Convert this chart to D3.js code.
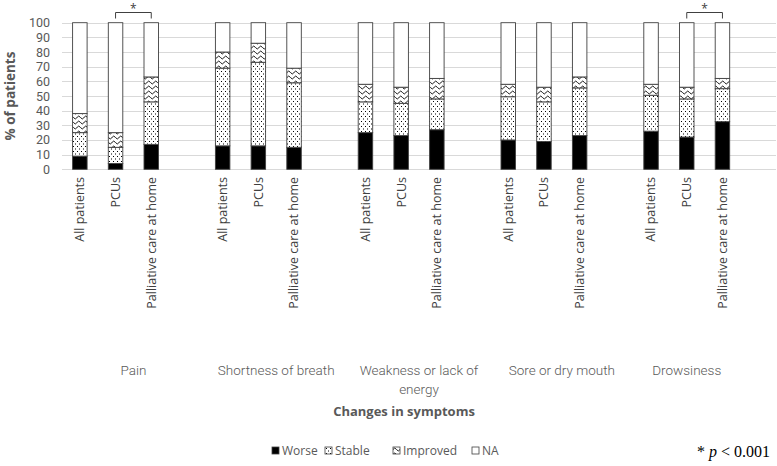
<!DOCTYPE html>
<html>
<head>
<meta charset="utf-8">
<script src="https://cdn.jsdelivr.net/npm/d3@7/dist/d3.min.js"></script>
<style>
  html, body { margin: 0; padding: 0; background: #fff; }
  svg { display: block; }
</style>
</head>
<body>
<svg id="chart" width="777" height="466"></svg>
<script>
// ---------- DATA ----------
const symptoms = ["Pain", "Shortness of breath", "Weakness or lack of energy", "Sore or dry mouth", "Drowsiness"];
const groups = ["All patients", "PCUs", "Palliative care at home"];
const seriesNames = ["Worse", "Stable", "Improved", "NA"];
// values per bar, in order symptom x group
const worse    = [9, 4, 17,   16, 16, 15,   25, 23, 27,   20, 19, 23,   26, 22, 32.5];
const stable   = [16, 11, 29, 53, 57, 44,   21, 22, 21,   29.5, 27, 32.5, 24.5, 26, 22.5];
const improved = [13, 10, 17, 11, 13, 10,   12, 11, 14,   8.5, 10, 7.5,  7.5, 8, 7];
const na       = [62, 75, 37, 20, 14, 31,   42, 44, 38,   42, 44, 37,   42, 44, 38];
const yTicks = [0, 10, 20, 30, 40, 50, 60, 70, 80, 90, 100];
const significant = [["Pain", "PCUs", "Palliative care at home"], ["Drowsiness", "PCUs", "Palliative care at home"]];
const groupLabelLines = [["Pain"], ["Shortness of breath"], ["Weakness or lack of", "energy"], ["Sore or dry mouth"], ["Drowsiness"]];

// ---------- BUILD ----------
const rows = [];
symptoms.forEach((s, si) => groups.forEach((g, gi) => {
  const i = si * 3 + gi;
  rows.push({ key: s + "|" + g, symptom: s, group: g, Worse: worse[i], Stable: stable[i], Improved: improved[i], NA: na[i] });
}));
const slots = [];
symptoms.forEach(s => { groups.forEach(g => slots.push(s + "|" + g)); slots.push(s + "|gap"); });

const svg = d3.select("#chart");
const L = 62, R = 776, T = 22.7, B = 169.3;

const x = d3.scaleBand().domain(slots).range([L, R]).paddingInner(0.594).paddingOuter(0.297);
const y = d3.scaleLinear().domain([0, 100]).range([B, T]);

// patterns
const defs = svg.append("defs");
const pd = defs.append("pattern").attr("id", "dots").attr("patternUnits", "userSpaceOnUse")
  .attr("width", 4).attr("height", 5);
pd.append("rect").attr("width", 4).attr("height", 5).attr("fill", "#fff");
pd.append("rect").attr("x", 1).attr("y", 1).attr("width", 1).attr("height", 1).attr("fill", "#000");
pd.append("rect").attr("x", 3).attr("y", 3.5).attr("width", 1).attr("height", 1).attr("fill", "#000");

const pw = defs.append("pattern").attr("id", "waves").attr("patternUnits", "userSpaceOnUse")
  .attr("width", 7).attr("height", 5);
pw.append("rect").attr("width", 7).attr("height", 5).attr("fill", "#fff");
pw.append("path").attr("d", "M0,2.5 Q1.75,-0.5 3.5,2.5 Q5.25,5.5 7,2.5").attr("fill", "none")
  .attr("stroke", "#000").attr("stroke-width", 0.9);
pw.append("path").attr("d", "M0,7.5 Q1.75,4.5 3.5,7.5").attr("fill", "none")
  .attr("stroke", "#000").attr("stroke-width", 0.9);
pw.append("path").attr("d", "M3.5,-2.5 Q5.25,0.5 7,-2.5").attr("fill", "none")
  .attr("stroke", "#000").attr("stroke-width", 0.9);

const fills = { Worse: "#000", Stable: "url(#dots)", Improved: "url(#waves)", NA: "#fff" };

// gridlines
svg.append("g").selectAll("line").data(yTicks).join("line")
  .attr("x1", L).attr("x2", R)
  .attr("y1", d => Math.round(y(d)) + 0.5).attr("y2", d => Math.round(y(d)) + 0.5)
  .attr("stroke", "#d9d9d9").attr("stroke-width", 1);

// y axis labels
const yAxis = d3.axisLeft(y).tickValues(yTicks).tickSize(0).tickPadding(0);
const yg = svg.append("g").attr("transform", `translate(${L - 12},0)`).call(yAxis);
yg.select(".domain").remove();
yg.selectAll("text").attr("font-family", "Roboto, 'Open Sans', sans-serif").attr("font-size", 12.5).attr("fill", "#595959");

// y title
svg.append("text").attr("transform", `translate(15,${(T + B) / 2}) rotate(-90)`)
  .attr("text-anchor", "middle").attr("font-family", "'Open Sans', sans-serif")
  .attr("font-size", 13.5).attr("font-weight", "bold").attr("fill", "#595959").text("% of patients");

// bars
const stack = d3.stack().keys(seriesNames);
const stacked = stack(rows);
svg.append("g").selectAll("g").data(stacked).join("g")
  .attr("fill", d => fills[d.key])
  .selectAll("rect").data(d => d).join("rect")
  .attr("x", d => x(d.data.key))
  .attr("width", x.bandwidth())
  .attr("y", d => y(d[1]))
  .attr("height", d => y(d[0]) - y(d[1]))
  .attr("stroke", "#404040").attr("stroke-width", 0.9);

// category labels (rotated)
svg.append("g").selectAll("text").data(rows).join("text")
  .attr("transform", d => `translate(${x(d.key) + x.bandwidth() / 2},177) rotate(-90)`)
  .attr("text-anchor", "end").attr("dy", "0.35em")
  .attr("font-family", "'Open Sans', sans-serif").attr("font-size", 12.5).attr("fill", "#404040")
  .text(d => d.group);

// group labels
symptoms.forEach((s, si) => {
  const first = x(s + "|" + groups[0]) - x.step() * x.paddingInner() / 2;
  const lastKey = si < symptoms.length - 1 ? s + "|gap" : s + "|" + groups[2];
  const last = x(lastKey) + x.bandwidth() + x.step() * x.paddingInner() / 2;
  const cx = (first + last) / 2;
  const t = svg.append("text").attr("text-anchor", "middle")
    .attr("font-family", "Roboto, 'Open Sans', sans-serif").attr("font-weight", 300)
    .attr("font-size", 13.5).attr("fill", "#595959");
  groupLabelLines[si].forEach((ln, li) => {
    t.append("tspan").attr("x", cx).attr("y", 375 + li * 19).text(ln);
  });
});

// significance brackets
significant.forEach(([s, a, b]) => {
  const xa = x(s + "|" + a) + x.bandwidth() / 2;
  const xb = x(s + "|" + b) + x.bandwidth() / 2;
  const yt = 12.5, yb = 18.5;
  svg.append("path").attr("d", `M${xa},${yb} V${yt} H${xb} V${yb}`)
    .attr("fill", "none").attr("stroke", "#404040").attr("stroke-width", 1);
  svg.append("text").attr("x", (xa + xb) / 2).attr("y", 13).attr("text-anchor", "middle")
    .attr("font-family", "'Open Sans', sans-serif").attr("font-size", 12).attr("fill", "#404040").text("*");
});

// x title
svg.append("text").attr("x", 404).attr("y", 416).attr("text-anchor", "middle")
  .attr("font-family", "'Open Sans', sans-serif").attr("font-size", 13).attr("font-weight", "bold")
  .attr("fill", "#595959").text("Changes in symptoms");

// legend
const legendX = [272, 325, 393, 472];
const lg = svg.append("g").selectAll("g").data(seriesNames).join("g")
  .attr("transform", (d, i) => `translate(${legendX[i]},447)`);
lg.append("rect").attr("width", 7).attr("height", 7).attr("fill", d => fills[d])
  .attr("stroke", "#404040").attr("stroke-width", 0.8);
lg.append("text").attr("x", 10).attr("y", 3.5).attr("dy", "0.35em")
  .attr("font-family", "'Open Sans', sans-serif").attr("font-size", 12).attr("fill", "#595959")
  .text(d => d);

// p-value note
const pn = svg.append("text").attr("x", 770).attr("y", 457).attr("text-anchor", "end")
  .attr("font-family", "'Liberation Serif', 'Times New Roman', serif").attr("font-size", 16).attr("fill", "#000");
pn.append("tspan").text("* ");
pn.append("tspan").attr("font-style", "italic").text("p");
pn.append("tspan").text(" < 0.001");
</script>
</body>
</html>
